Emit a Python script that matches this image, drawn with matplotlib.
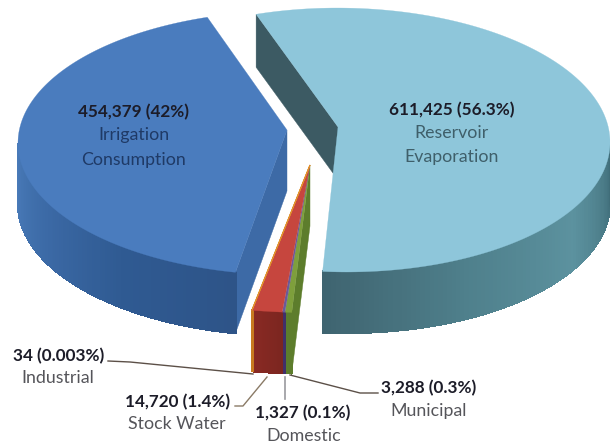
import numpy as np
import matplotlib
matplotlib.use('Agg')
import matplotlib.pyplot as plt
from matplotlib.colors import LinearSegmentedColormap

names = ['Reservoir', 'Municipal', 'Domestic', 'Stock', 'Industrial', 'Irrigation']
values = [611425, 3288, 1327, 14720, 34, 454379]

top_colors = ['#8ec6da', '#7e9f3c', '#6a5a9a', '#c6463e', '#e0902f', '#4a7cbe']
wall_colors = ['#3c5a63', '#5d7d2c', '#4a3d78', '#8a2a24', '#c87a20', '#3d6aa6']
band_colors = [['#3f6470', '#4f808c', '#5c929f', '#3f6c78'],
               ['#5d7d2c', '#5d7d2c'],
               ['#40306a', '#40306a'],
               ['#8a2a24', '#7c2620'],
               ['#c87a20', '#c87a20'],
               ['#4a7cba', '#3c6aa6', '#2f5a92', '#2e5488']]

# pie geometry, pixels of the picture
start_angle = 107.7
ry = 132
depth = 61
wall_depth = 53
centers = {'Reservoir': (342, 140), 'Irrigation': (290, 143)}
radii = {'Reservoir': 268, 'Irrigation': 272}
shear = {'Reservoir': 0.035}
apexes = {'Reservoir': (338, 127), 'Irrigation': (287, 130)}
small_center = (324, 181)
small_rx = 360
small_apex = (310, 165)

plt.rcParams['font.family'] = ['Lato', 'DejaVu Sans']
fig = plt.figure(figsize=(6.10, 4.47), dpi=100)
ax = fig.add_axes([0, 0, 1, 1])
ax.set_xlim(0, 610)
ax.set_ylim(447, 0)
ax.axis('off')

sweeps = np.array(values) / sum(values) * 360
ends = start_angle - np.cumsum(sweeps)
starts = ends + sweeps


def ellipse_xy(name, t):
    t = np.radians(t)
    cx, cy = centers.get(name, small_center)
    a = radii.get(name, small_rx)
    dy = -ry * np.sin(t)
    return cx + a * np.cos(t) + shear.get(name, 0) * dy, cy + dy


def draw_slice(i):
    name = names[i]
    apex = apexes.get(name, small_apex)
    t = np.linspace(starts[i], ends[i], 200)
    x, y = ellipse_xy(name, t)
    # flat wall that is seen from the front
    if name in ('Reservoir', 'Irrigation', 'Municipal'):
        wx, wy = ellipse_xy(name, starts[i])
        d = wall_depth if name == 'Reservoir' else depth
        ax.fill([apex[0], wx, wx, apex[0]],
                [apex[1], wy, wy + d, apex[1] + d],
                color=wall_colors[i], lw=0.3, zorder=2 + i * 0.1)
    # outer rim, only the front half shows
    rim = t[np.sin(np.radians(t)) <= 0]
    if len(rim) > 1:
        cmap = LinearSegmentedColormap.from_list('rim', band_colors[i])
        rim = np.sort(rim)
        for j in range(len(rim) - 1):
            xa, ya = ellipse_xy(name, rim[j])
            xb, yb = ellipse_xy(name, rim[j + 1])
            ax.fill([xa, xb, xb, xa], [ya, yb, yb + depth, ya + depth],
                    color=cmap(j / (len(rim) - 1)), lw=0.8, antialiased=False,
                    zorder=3 + i * 0.1)
    elif name == 'Industrial':
        xa, ya = ellipse_xy(name, starts[i])
        ax.plot([xa, xa], [ya, ya + depth], color=top_colors[i], lw=1, zorder=4)
    # top face
    ax.fill(np.r_[apex[0], x], np.r_[apex[1], y], facecolor=top_colors[i],
            edgecolor=top_colors[i], lw=0.8 if name == 'Industrial' else 0.2,
            zorder=5 + i * 0.1)


for i in range(len(names)):
    draw_slice(i)

# leader lines
line_c = '#5c5048'
ax.plot([108, 130, 253], [361, 362, 374], color=line_c, lw=1, zorder=6)
ax.plot([235, 243, 267], [406, 406, 377], color='#8a7a66', lw=1, zorder=6)
ax.plot([285, 285], [377, 399], color='#9a9a9e', lw=1.2, zorder=6)
ax.plot([290, 360, 378], [375, 393, 393], color=line_c, lw=1, zorder=6)

bold_c = '#1c1c28'
bold_fs = 12.3
reg_fs = 12.8


def label(x, y, s, bold=False, color='#55555a'):
    ax.text(x, y, s, ha='center', va='center',
            fontsize=bold_fs if bold else reg_fs,
            fontweight='bold' if bold else 'normal',
            color=bold_c if bold else color, zorder=7)


label(134, 112, '454,379 (42%)', True)
label(134, 135, 'Irrigation', color='#1f3a66')
label(134, 160, 'Consumption', color='#1f3a66')
label(452, 110, '611,425 (56.3%)', True)
label(452, 133, 'Reservoir', color='#3f5f6a')
label(452, 157, 'Evaporation', color='#3f5f6a')
label(59, 356, '34 (0.003%)', True)
label(58, 378, 'Industrial')
label(178, 402, '14,720 (1.4%)', True)
label(177, 424, 'Stock Water')
label(303, 413, '1,327 (0.1%)', True)
label(304, 436, 'Domestic')
label(429, 388, '3,288 (0.3%)', True)
label(429, 411, 'Municipal')

fig.savefig('out.png', dpi=100)
